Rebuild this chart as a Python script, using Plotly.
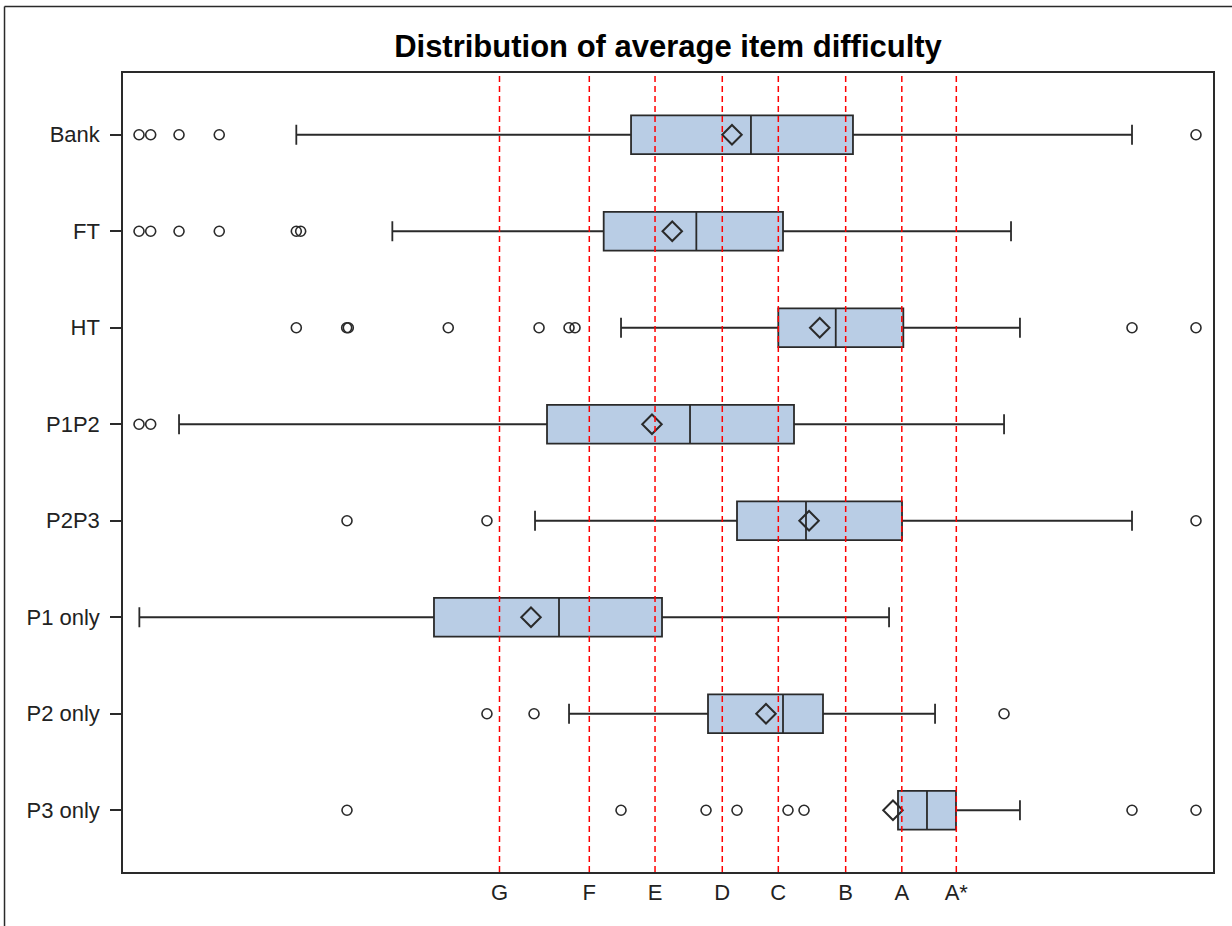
import plotly.graph_objects as go

# Item groups, top to bottom
groups = ["Bank", "FT", "HT", "P1P2", "P2P3", "P1 only", "P2 only", "P3 only"]

# Box statistics (average item difficulty scale)
lower_whisker = [15.90, 24.71, 45.69, 5.14, 37.80, 1.50, 40.92, 71.10]
q1 = [46.61, 44.10, 60.12, 38.90, 56.33, 28.53, 53.67, 71.10]
median = [57.61, 52.60, 65.39, 52.02, 62.66, 40.00, 60.55, 73.76]
q3 = [66.97, 60.55, 71.59, 61.56, 71.47, 49.45, 64.22, 76.42]
upper_whisker = [92.57, 81.47, 82.29, 80.83, 92.57, 70.28, 74.50, 82.29]
mean = [55.87, 50.39, 63.92, 48.53, 62.94, 37.43, 58.99, 70.64]

# Outlying items per group
outliers = {
    "Bank": [1.47, 2.54, 5.14, 8.83, 98.44],
    "FT": [1.47, 2.54, 5.14, 8.83, 15.90, 16.30],
    "HT": [15.90, 20.52, 20.67, 29.84, 38.17, 40.92, 41.47, 92.57, 98.44],
    "P1P2": [1.47, 2.54],
    "P2P3": [20.55, 33.39, 98.44],
    "P1 only": [],
    "P2 only": [33.39, 37.71, 80.83],
    "P3 only": [20.55, 45.69, 53.49, 56.33, 61.01, 62.48, 92.57, 98.44],
}

# Grade boundaries
grade_labels = ["G", "F", "E", "D", "C", "B", "A", "A*"]
grade_values = [34.54, 42.78, 48.81, 54.98, 60.12, 66.30, 71.45, 76.45]

LINE = "#2a2a2a"
FONT = "Liberation Sans, Arial, sans-serif"

fig = go.Figure()

fig.add_trace(go.Box(
    y=groups,
    q1=q1,
    median=median,
    q3=q3,
    lowerfence=lower_whisker,
    upperfence=upper_whisker,
    orientation="h",
    width=0.4,
    whiskerwidth=0.52,
    fillcolor="#b9cde5",
    line=dict(color=LINE, width=1.8),
    boxpoints=False,
    hoverinfo="skip",
    showlegend=False,
))

out_x, out_y = [], []
for g in groups:
    for v in outliers[g]:
        out_x.append(v)
        out_y.append(g)

fig.add_trace(go.Scatter(
    x=out_x, y=out_y, mode="markers",
    marker=dict(symbol="circle-open", size=10, color=LINE, line=dict(width=1.6, color=LINE)),
    showlegend=False, hoverinfo="skip",
))

fig.add_trace(go.Scatter(
    x=mean, y=groups, mode="markers",
    marker=dict(symbol="diamond-open", size=15, color=LINE, line=dict(width=2, color=LINE)),
    showlegend=False, hoverinfo="skip",
))

# Grade boundary reference lines
for v in grade_values:
    fig.add_shape(type="line", xref="x", yref="paper", x0=v, x1=v, y0=0, y1=1,
                  line=dict(color="#ff0000", width=1.5, dash="6px,4px"), layer="above")

# Outer frame (top and left edges)
fig.add_shape(type="line", xref="paper", yref="paper", x0=-0.1087, x1=1.03, y0=1.0832, y1=1.0832,
              line=dict(color=LINE, width=1.5))
fig.add_shape(type="line", xref="paper", yref="paper", x0=-0.1087, x1=-0.1087, y0=1.0832, y1=-0.08,
              line=dict(color=LINE, width=1.5))

fig.update_layout(
    width=1232, height=926,
    margin=dict(l=123, r=19, t=73, b=54),
    paper_bgcolor="white", plot_bgcolor="white",
    title=dict(text="<b>Distribution of average item difficulty</b>",
               x=668 / 1232, xanchor="center", y=1 - 46 / 926, yanchor="middle",
               font=dict(family=FONT, size=31, color="#000000")),
    font=dict(family=FONT, color="#222222"),
    boxmode="overlay",
)

fig.update_xaxes(
    range=[0, 100], showgrid=False, zeroline=False,
    tickmode="array", tickvals=grade_values, ticktext=grade_labels,
    ticks="", tickfont=dict(size=22, color="#222222"),
    showline=True, linecolor=LINE, linewidth=1.5, mirror=True,
    ticklabelstandoff=0,
)
fig.update_yaxes(
    type="category", categoryorder="array", categoryarray=groups,
    range=[7.64, -0.64], showgrid=False, zeroline=False,
    ticks="outside", ticklen=11, tickwidth=1.5, tickcolor=LINE,
    tickfont=dict(size=22, color="#222222"),
    showline=True, linecolor=LINE, linewidth=1.5, mirror=True,
    ticklabelstandoff=6,
)

fig.write_html("out.html")
